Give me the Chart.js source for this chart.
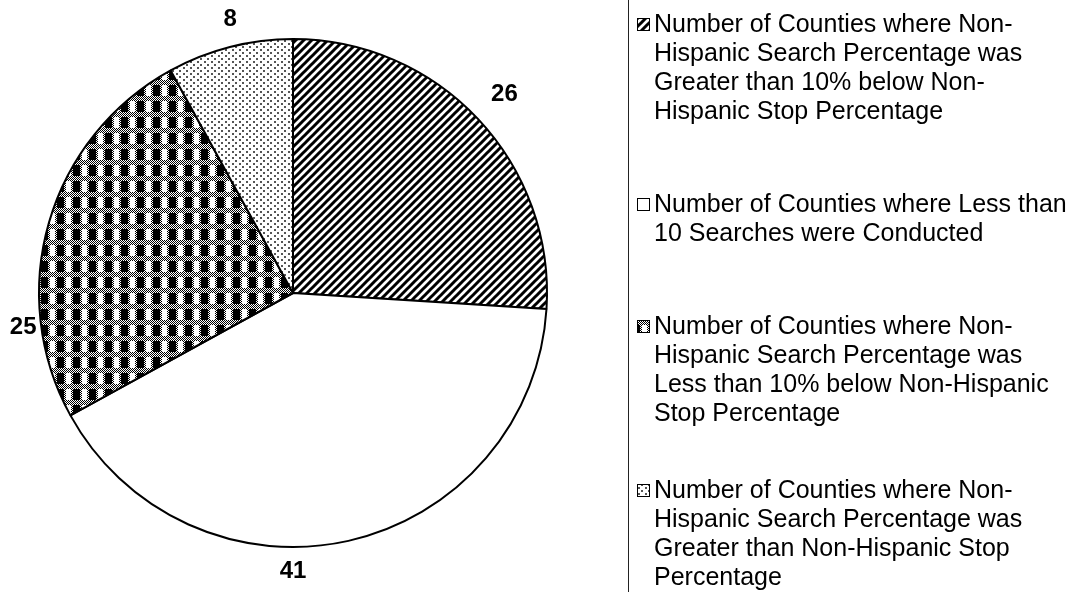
<!DOCTYPE html>
<html>
<head>
<meta charset="utf-8">
<script src="https://cdn.jsdelivr.net/npm/chart.js@4.4.0/dist/chart.umd.min.js"></script>
<style>
  html, body { margin: 0; padding: 0; background: #fff; }
</style>
</head>
<body>
<canvas id="countyPie" width="1086" height="592"></canvas>
<script>
const categories = [
  "Number of Counties where Non-Hispanic Search Percentage was Greater than 10% below Non-Hispanic Stop Percentage",
  "Number of Counties where Less than 10 Searches were Conducted",
  "Number of Counties where Non-Hispanic Search Percentage was Less than 10% below Non-Hispanic Stop Percentage",
  "Number of Counties where Non-Hispanic Search Percentage was Greater than Non-Hispanic Stop Percentage"
];
const countyCounts = [26, 41, 25, 8];

// legend text broken the way the original wraps it
const legendLines = [
  ["Number of Counties where Non-", "Hispanic Search Percentage was", "Greater than 10% below Non-", "Hispanic Stop Percentage"],
  ["Number of Counties where Less than", "10 Searches were Conducted"],
  ["Number of Counties where Non-", "Hispanic Search Percentage was", "Less than 10% below Non-Hispanic", "Stop Percentage"],
  ["Number of Counties where Non-", "Hispanic Search Percentage was", "Greater than Non-Hispanic Stop", "Percentage"]
];

function tile(w, h, paint) {
  const c = document.createElement("canvas");
  c.width = w; c.height = h;
  const g = c.getContext("2d");
  g.fillStyle = "#fff";
  g.fillRect(0, 0, w, h);
  paint(g);
  return c;
}

function dither(g, x0, y0, w, h) {
  g.fillStyle = "#000";
  for (let y = y0; y < y0 + h; y++)
    for (let x = x0; x < x0 + w; x++)
      if ((x + y) % 2 === 0) g.fillRect(x, y, 1, 1);
}

const hatchTile = tile(8, 8, g => {
  g.strokeStyle = "#000";
  g.lineWidth = 3;
  g.beginPath();
  g.moveTo(-4, 4); g.lineTo(4, -4);
  g.moveTo(0, 8); g.lineTo(8, 0);
  g.moveTo(4, 12); g.lineTo(12, 4);
  g.stroke();
});

const checkTile = tile(16, 16, g => {
  dither(g, 0, 0, 16, 5);
  dither(g, 0, 5, 2, 11);
  dither(g, 7, 5, 2, 11);
  g.fillStyle = "#000";
  g.fillRect(9, 5, 7, 11);
});

const dotTile = tile(7, 6, g => {
  g.fillStyle = "#555";
  g.fillRect(1, 1, 2, 2);
  g.fillRect(4, 4, 2, 2);
});

const ctx = document.getElementById("countyPie").getContext("2d");
const fills = [
  ctx.createPattern(hatchTile, "repeat"),
  "#ffffff",
  ctx.createPattern(checkTile, "repeat"),
  ctx.createPattern(dotTile, "repeat")
];

// value labels sit outside the pie; small angle nudges like the original
const labelNudge = [[0, 36], [12.6, 24], [-23.4, 18], [1.5, 27]];

const outsideLabels = {
  id: "outsideLabels",
  afterDatasetsDraw(chart) {
    const c = chart.ctx;
    const arcs = chart.getDatasetMeta(0).data;
    c.save();
    c.fillStyle = "#000";
    c.font = "bold 24px 'Liberation Sans', Arial, sans-serif";
    c.textAlign = "center";
    c.textBaseline = "middle";
    arcs.forEach((arc, i) => {
      const p = arc.getProps(["x", "y", "startAngle", "endAngle", "outerRadius"], true);
      const a = (p.startAngle + p.endAngle) / 2 + labelNudge[i][0] * Math.PI / 180;
      const r = p.outerRadius + labelNudge[i][1];
      c.fillText(String(countyCounts[i]), p.x + r * Math.cos(a), p.y + r * Math.sin(a));
    });
    c.restore();
  }
};

const sideLegend = {
  id: "sideLegend",
  afterDraw(chart) {
    const c = chart.ctx;
    const tops = [25, 205, 327, 491];
    c.save();
    c.strokeStyle = "#222";
    c.lineWidth = 1;
    c.beginPath();
    c.moveTo(628.5, 0);
    c.lineTo(628.5, chart.height);
    c.stroke();

    c.font = "25px 'Liberation Sans', Arial, sans-serif";
    c.textBaseline = "middle";
    c.textAlign = "left";
    legendLines.forEach((lines, i) => {
      const y0 = tops[i];
      c.fillStyle = fills[i];
      c.fillRect(637, y0 - 7, 13, 13);
      c.strokeStyle = "#000";
      c.lineWidth = 1;
      c.strokeRect(637.5, y0 - 6.5, 12, 12);
      c.fillStyle = "#000";
      lines.forEach((t, k) => c.fillText(t, 654, y0 + k * 29));
    });
    c.restore();
  }
};

new Chart(ctx, {
  type: "pie",
  data: {
    labels: categories,
    datasets: [{
      data: countyCounts,
      backgroundColor: fills,
      borderColor: "#000",
      borderWidth: 2,
    }],
  },
  options: {
    responsive: false,
    animation: false,
    devicePixelRatio: 1,
    layout: { padding: { left: 38, top: 38, right: 538, bottom: 44 } },
    plugins: {
      legend: { display: false },
      tooltip: { enabled: false },
    },
  },
  plugins: [outsideLabels, sideLegend],
});
</script>
</body>
</html>
